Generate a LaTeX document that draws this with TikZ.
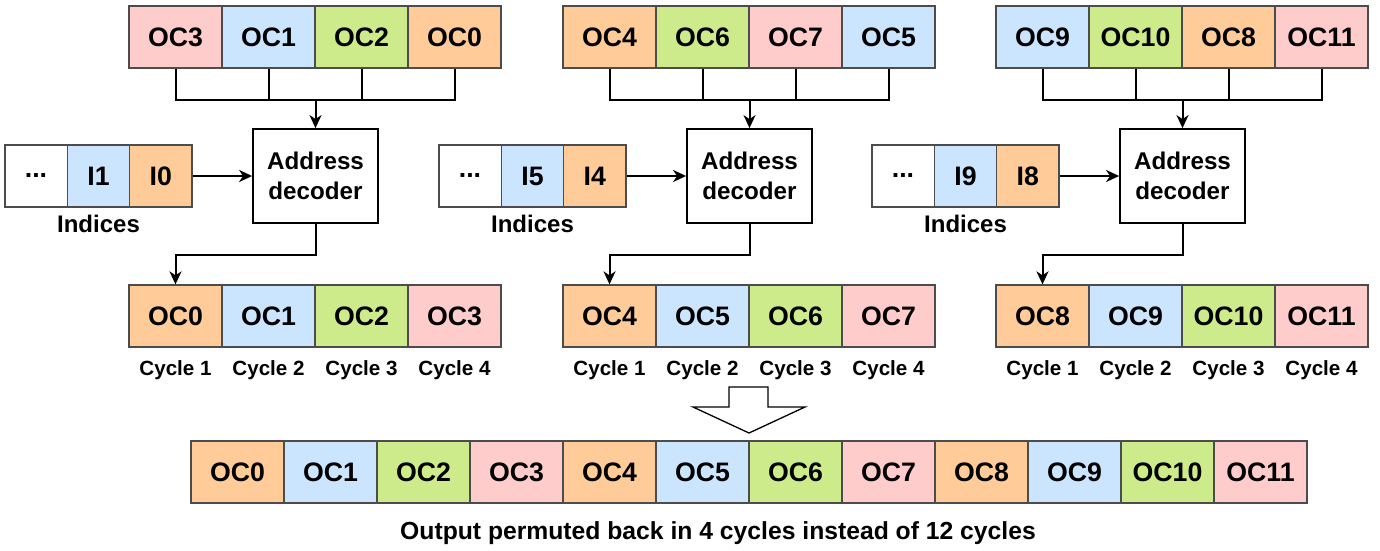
\documentclass[tikz,border=0pt]{standalone}
\usepackage{fontspec}
\setmainfont{Liberation Sans}
\usetikzlibrary{arrows.meta}
\definecolor{coulO}{HTML}{FFCC99}
\definecolor{coulB}{HTML}{CCE5FF}
\definecolor{coulV}{HTML}{CDEB8B}
\definecolor{coulR}{HTML}{FFCCCC}
\begin{document}
\begin{tikzpicture}[x=1pt,y=-1pt]
% style des nœuds
\tikzstyle{case}=[rectangle,draw=black!70,line width=1.3pt,minimum width=93pt,minimum height=62pt,inner sep=0pt,font=\bfseries\fontsize{26.7}{30}\selectfont]
\tikzstyle{caseO}=[case,fill=coulO]
\tikzstyle{caseB}=[case,fill=coulB]
\tikzstyle{caseV}=[case,fill=coulV]
\tikzstyle{caseR}=[case,fill=coulR]
\tikzstyle{indice}=[minimum width=62.3pt]
\tikzstyle{decodeur}=[rectangle,draw,line width=1.8pt,minimum width=125pt,minimum height=94pt,align=center,font=\bfseries\fontsize{24.2}{30}\selectfont]
\tikzstyle{legende}=[font=\bfseries\fontsize{24}{28}\selectfont]
\tikzstyle{cycle}=[font=\bfseries\fontsize{20.6}{24}\selectfont]
% style des flèches
\tikzstyle{trait}=[line width=2pt]
\tikzstyle{fleche}=[trait,-{Stealth[length=13pt,width=12pt,inset=4pt]}]
\useasboundingbox (0,0) rectangle (1380,550);
% bloc 1
\node[caseR] (A1) at (175.5,37) {OC3};
\node[caseB] (A2) at (268.5,37) {OC1};
\node[caseV] (A3) at (361.5,37) {OC2};
\node[caseO] (A4) at (454.5,37) {OC0};
\node[decodeur] (DA) at (315.5,176) {Address\\decoder};
\node[case,indice,fill=white] (IA1) at (36,176) {...};
\node[caseB,indice] (IA2) at (98.5,176) {I1};
\node[caseO,indice] (IA3) at (160.8,176) {I0};
\node[legende] (LA) at (98.5,224) {Indices};
\node[caseO] (SA1) at (175.5,316) {OC0};
\node[caseB] (SA2) at (268.5,316) {OC1};
\node[caseV] (SA3) at (361.5,316) {OC2};
\node[caseR] (SA4) at (454.5,316) {OC3};
\node[cycle] (CA1) at (175.5,370) {Cycle 1};
\node[cycle] (CA2) at (268.5,370) {Cycle 2};
\node[cycle] (CA3) at (361.5,370) {Cycle 3};
\node[cycle] (CA4) at (454.5,370) {Cycle 4};
% bloc 2
\node[caseO] (B1) at (609.5,37) {OC4};
\node[caseV] (B2) at (702.5,37) {OC6};
\node[caseR] (B3) at (795.5,37) {OC7};
\node[caseB] (B4) at (888.5,37) {OC5};
\node[decodeur] (DB) at (749.5,176) {Address\\decoder};
\node[case,indice,fill=white] (IB1) at (470,176) {...};
\node[caseB,indice] (IB2) at (532.5,176) {I5};
\node[caseO,indice] (IB3) at (594.8,176) {I4};
\node[legende] (LB) at (532.5,224) {Indices};
\node[caseO] (SB1) at (609.5,316) {OC4};
\node[caseB] (SB2) at (702.5,316) {OC5};
\node[caseV] (SB3) at (795.5,316) {OC6};
\node[caseR] (SB4) at (888.5,316) {OC7};
\node[cycle] (CB1) at (609.5,370) {Cycle 1};
\node[cycle] (CB2) at (702.5,370) {Cycle 2};
\node[cycle] (CB3) at (795.5,370) {Cycle 3};
\node[cycle] (CB4) at (888.5,370) {Cycle 4};
% bloc 3
\node[caseB] (C1) at (1042.5,37) {OC9};
\node[caseV] (C2) at (1135.5,37) {OC10};
\node[caseO] (C3) at (1228.5,37) {OC8};
\node[caseR] (C4) at (1321.5,37) {OC11};
\node[decodeur] (DC) at (1182.5,176) {Address\\decoder};
\node[case,indice,fill=white] (IC1) at (903,176) {...};
\node[caseB,indice] (IC2) at (965.5,176) {I9};
\node[caseO,indice] (IC3) at (1027.8,176) {I8};
\node[legende] (LC) at (965.5,224) {Indices};
\node[caseO] (SC1) at (1042.5,316) {OC8};
\node[caseB] (SC2) at (1135.5,316) {OC9};
\node[caseV] (SC3) at (1228.5,316) {OC10};
\node[caseR] (SC4) at (1321.5,316) {OC11};
\node[cycle] (CC1) at (1042.5,370) {Cycle 1};
\node[cycle] (CC2) at (1135.5,370) {Cycle 2};
\node[cycle] (CC3) at (1228.5,370) {Cycle 3};
\node[cycle] (CC4) at (1321.5,370) {Cycle 4};
% sortie finale
\node[caseO] (F0) at (237.5,472) {OC0};
\node[caseB] (F1) at (330.5,472) {OC1};
\node[caseV] (F2) at (423.5,472) {OC2};
\node[caseR] (F3) at (516.5,472) {OC3};
\node[caseO] (F4) at (609.5,472) {OC4};
\node[caseB] (F5) at (702.5,472) {OC5};
\node[caseV] (F6) at (795.5,472) {OC6};
\node[caseR] (F7) at (888.5,472) {OC7};
\node[caseO] (F8) at (981.5,472) {OC8};
\node[caseB] (F9) at (1074.5,472) {OC9};
\node[caseV] (F10) at (1167.5,472) {OC10};
\node[caseR] (F11) at (1260.5,472) {OC11};
\node[legende,font=\bfseries\fontsize{24.7}{28}\selectfont] (OUT) at (718,533) {Output permuted back in 4 cycles instead of 12 cycles};
% points de jonction
\coordinate (JA) at (315.5,99.5);
\coordinate (JB) at (749.5,99.5);
\coordinate (JC) at (1182.5,99.5);
\coordinate (KA) at (315.5,254.5);
\coordinate (KB) at (749.5,254.5);
\coordinate (KC) at (1182.5,254.5);
% Placement des flèches
\draw[trait] (A1.south) |- (JA) -| (A4.south);
\draw[trait] (A2.south) -- (A2.south |- JA);
\draw[trait] (A3.south) -- (A3.south |- JA);
\draw[fleche] (JA) -- (DA.north);
\draw[fleche] (IA3.east) -- (DA.west);
\draw[fleche] (DA.south) -- (KA) -| (SA1.north);
\draw[trait] (B1.south) |- (JB) -| (B4.south);
\draw[trait] (B2.south) -- (B2.south |- JB);
\draw[trait] (B3.south) -- (B3.south |- JB);
\draw[fleche] (JB) -- (DB.north);
\draw[fleche] (IB3.east) -- (DB.west);
\draw[fleche] (DB.south) -- (KB) -| (SB1.north);
\draw[trait] (C1.south) |- (JC) -| (C4.south);
\draw[trait] (C2.south) -- (C2.south |- JC);
\draw[trait] (C3.south) -- (C3.south |- JC);
\draw[fleche] (JC) -- (DC.north);
\draw[fleche] (IC3.east) -- (DC.west);
\draw[fleche] (DC.south) -- (KC) -| (SC1.north);
% grosse flèche
\draw[line width=1.3pt,fill=white] (729,387) -- (768,387) -- (768,407) -- (805,407) -- (749,433) -- (693,407) -- (729,407) -- cycle;
\end{tikzpicture}
\end{document}
